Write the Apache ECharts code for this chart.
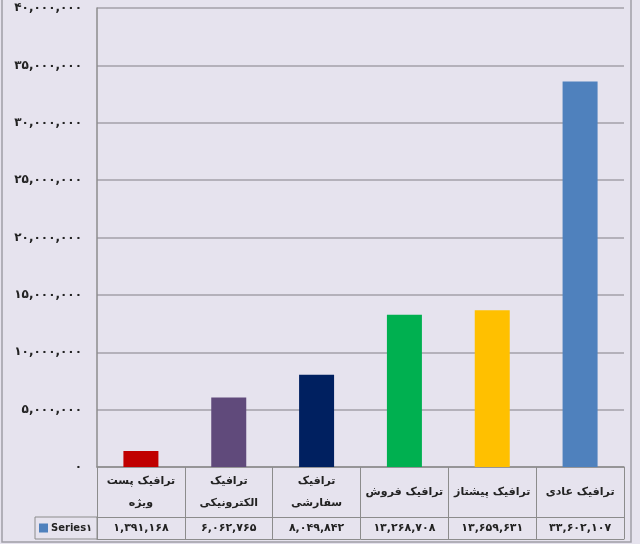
<!DOCTYPE html>
<html>
<head>
<meta charset="utf-8">
<script src="https://cdn.jsdelivr.net/npm/echarts@6/dist/echarts.min.js"></script>
<style>
  html, body { margin: 0; padding: 0; background: #e6e3ee; }
  #chart { width: 640px; height: 544px; }
</style>
</head>
<body>
<div id="chart"></div>
<script>
  let categories = ['ترافیک پست\nویژه', 'ترافیک\nالکترونیکی', 'ترافیک\nسفارشی', 'ترافیک فروش', 'ترافیک پیشتاز', 'ترافیک عادی']
  let values = [1391168, 6062765, 8049842, 13268708, 13659631, 33602107]
  let barColors = ['#c00000', '#604a7b', '#002060', '#00b050', '#ffc000', '#4f81bd']
  let seriesName = 'Series۱'

  let faDigits = '۰۱۲۳۴۵۶۷۸۹'
  function toFa (n) {
    let s = String(n).replace(/\B(?=(\d{3})+(?!\d))/g, ',')
    return s.replace(/\d/g, d => faDigits[d])
  }

  let lineColor = '#8c8c8c'
  let font = 'DejaVu Sans'

  let myChart = echarts.init(document.getElementById('chart'))
  let option = {
    backgroundColor: '#e6e3ee',
    animation: false,
    grid: {
      left: 97,
      right: 16,
      top: 8,
      bottom: 77
    },
    legend: {
      data: [seriesName],
      left: 39,
      top: 523,
      icon: 'rect',
      itemWidth: 9,
      itemHeight: 9,
      itemGap: 4,
      padding: 0,
      textStyle: { color: '#222', fontFamily: font, fontSize: 10, fontWeight: 'bold', padding: [0, 0, 0, -2] }
    },
    xAxis: [
      {
        type: 'category',
        data: categories,
        axisLine: { lineStyle: { color: lineColor, width: 1.5 } },
        axisTick: { show: true, length: 72, alignWithLabel: false, lineStyle: { color: lineColor, width: 1 } },
        axisLabel: {
          margin: 25,
          verticalAlign: 'middle',
          lineHeight: 22,
          color: '#222',
          fontFamily: font,
          fontSize: 11,
          fontWeight: 'bold',
          interval: 0
        }
      },
      {
        type: 'category',
        data: categories,
        position: 'bottom',
        offset: 50,
        axisLine: { lineStyle: { color: lineColor, width: 1 } },
        axisTick: { show: false },
        axisLabel: {
          margin: 11,
          verticalAlign: 'middle',
          color: '#222',
          fontFamily: font,
          fontSize: 11,
          fontWeight: 'bold',
          interval: 0,
          formatter: (v, i) => toFa(values[i])
        }
      },
      {
        type: 'category',
        data: categories,
        position: 'bottom',
        offset: 72,
        axisLine: { lineStyle: { color: lineColor, width: 1 } },
        axisTick: { show: false },
        axisLabel: { show: false }
      }
    ],
    yAxis: {
      type: 'value',
      min: 0,
      max: 40000000,
      interval: 5000000,
      axisLine: { show: true, lineStyle: { color: lineColor, width: 1.5 } },
      axisTick: { show: false },
      splitLine: { lineStyle: { color: '#a3a1a8', width: 1.5 } },
      axisLabel: {
        margin: 15,
        color: '#222',
        fontFamily: font,
        fontSize: 12,
        fontWeight: 'bold',
        formatter: v => toFa(v)
      }
    },
    graphic: [
      {
        type: 'rect',
        shape: { x: 35, y: 517, width: 62, height: 22 },
        style: { fill: 'none', stroke: lineColor, lineWidth: 1 },
        silent: true
      },
      {
        type: 'rect',
        shape: { x: 2, y: -4, width: 629, height: 546 },
        style: { fill: 'none', stroke: '#a09ea6', lineWidth: 1.5 },
        silent: true
      }
    ],
    series: [
      {
        name: seriesName,
        type: 'bar',
        barWidth: 35,
        data: values.map((v, i) => ({ value: v, itemStyle: { color: barColors[i] } })),
        itemStyle: { color: '#4f81bd' }
      }
    ]
  }
  myChart.setOption(option)
</script>
</body>
</html>
